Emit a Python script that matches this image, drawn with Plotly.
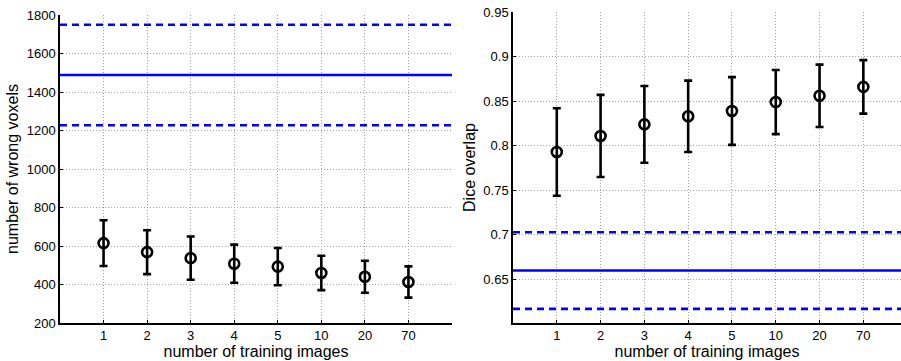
import plotly.graph_objects as go

# training-set sizes shown on the x axis
n_train = ["1", "2", "3", "4", "5", "10", "20", "70"]
pos = list(range(1, len(n_train) + 1))

# number of wrongly labelled voxels: mean and error bar extent
wrong_mean = [615, 568, 537, 508, 493, 460, 440, 413]
wrong_err = [119, 114, 112, 99, 97, 89, 83, 81]
# baseline method: mean and +/- one std
wrong_base = 1488
wrong_base_std = 261

# Dice overlap: mean and error bar extent
dice_mean = [0.793, 0.811, 0.824, 0.833, 0.839, 0.849, 0.856, 0.866]
dice_err = [0.049, 0.046, 0.043, 0.040, 0.038, 0.036, 0.035, 0.030]
dice_base = 0.660
dice_base_std = 0.043

FONT = "Liberation Sans, Arial, sans-serif"
BLUE = "#0000ff"

fig = go.Figure()


def add_panel(xa, ya, mean, err, base, std):
    for val, dash in [(base + std, "7px,5px"), (base, "solid"), (base - std, "7px,5px")]:
        fig.add_shape(type="line", xref=f"{xa} domain", yref=ya,
                      x0=0, x1=1, y0=val, y1=val,
                      line=dict(color=BLUE, width=2.6, dash=dash), layer="above")
    fig.add_trace(go.Scatter(
        x=pos, y=mean, xaxis=xa, yaxis=ya, mode="markers",
        marker=dict(symbol="circle-open", size=10, color="black",
                    line=dict(width=2.6, color="black")),
        error_y=dict(type="data", array=err, visible=True, color="black",
                     thickness=2.6, width=4),
        showlegend=False, cliponaxis=False))


add_panel("x", "y", wrong_mean, wrong_err, wrong_base, wrong_base_std)
add_panel("x2", "y2", dice_mean, dice_err, dice_base, dice_base_std)

grid = dict(showgrid=True, gridcolor="#a0a0a0", griddash="1px,2px", gridwidth=1,
            showline=True, linecolor="black", linewidth=1.5,
            ticks="inside", ticklen=3, tickcolor="black",
            tickfont=dict(family=FONT, size=13, color="black"),
            zeroline=False, mirror=False, automargin=False)

xtickvals = list(range(0, 10))
xticktext = [""] + n_train + [""]

fig.update_layout(
    width=901, height=361,
    margin=dict(l=0, r=0, t=0, b=0),
    paper_bgcolor="white", plot_bgcolor="white",
    font=dict(family=FONT, color="black"),
    xaxis=dict(domain=[60 / 901, 452 / 901], range=[0, 9],
               tickvals=xtickvals, ticktext=xticktext,
               title=dict(text="number of training images",
                          font=dict(size=16), standoff=0),
               anchor="y", **grid),
    yaxis=dict(domain=[38 / 361, 346 / 361], range=[200, 1800],
               tickvals=list(range(200, 1801, 200)),
               title=dict(text="number of wrong voxels",
                          font=dict(size=16), standoff=4),
               anchor="x", **grid),
    xaxis2=dict(domain=[513 / 901, 1.0], range=[0, 8.86],
                tickvals=xtickvals, ticktext=xticktext,
                title=dict(text="number of training images",
                           font=dict(size=16), standoff=0),
                anchor="y2", **grid),
    yaxis2=dict(domain=[38 / 361, 349 / 361], range=[0.6012, 0.95],
                tickvals=[0.65, 0.7, 0.75, 0.8, 0.85, 0.9, 0.95],
                ticktext=["0.65", "0.7", "0.75", "0.8", "0.85", "0.9", "0.95"],
                title=dict(text="Dice overlap",
                           font=dict(size=16), standoff=4),
                anchor="x2", **grid),
)

fig.write_html("out.html")
